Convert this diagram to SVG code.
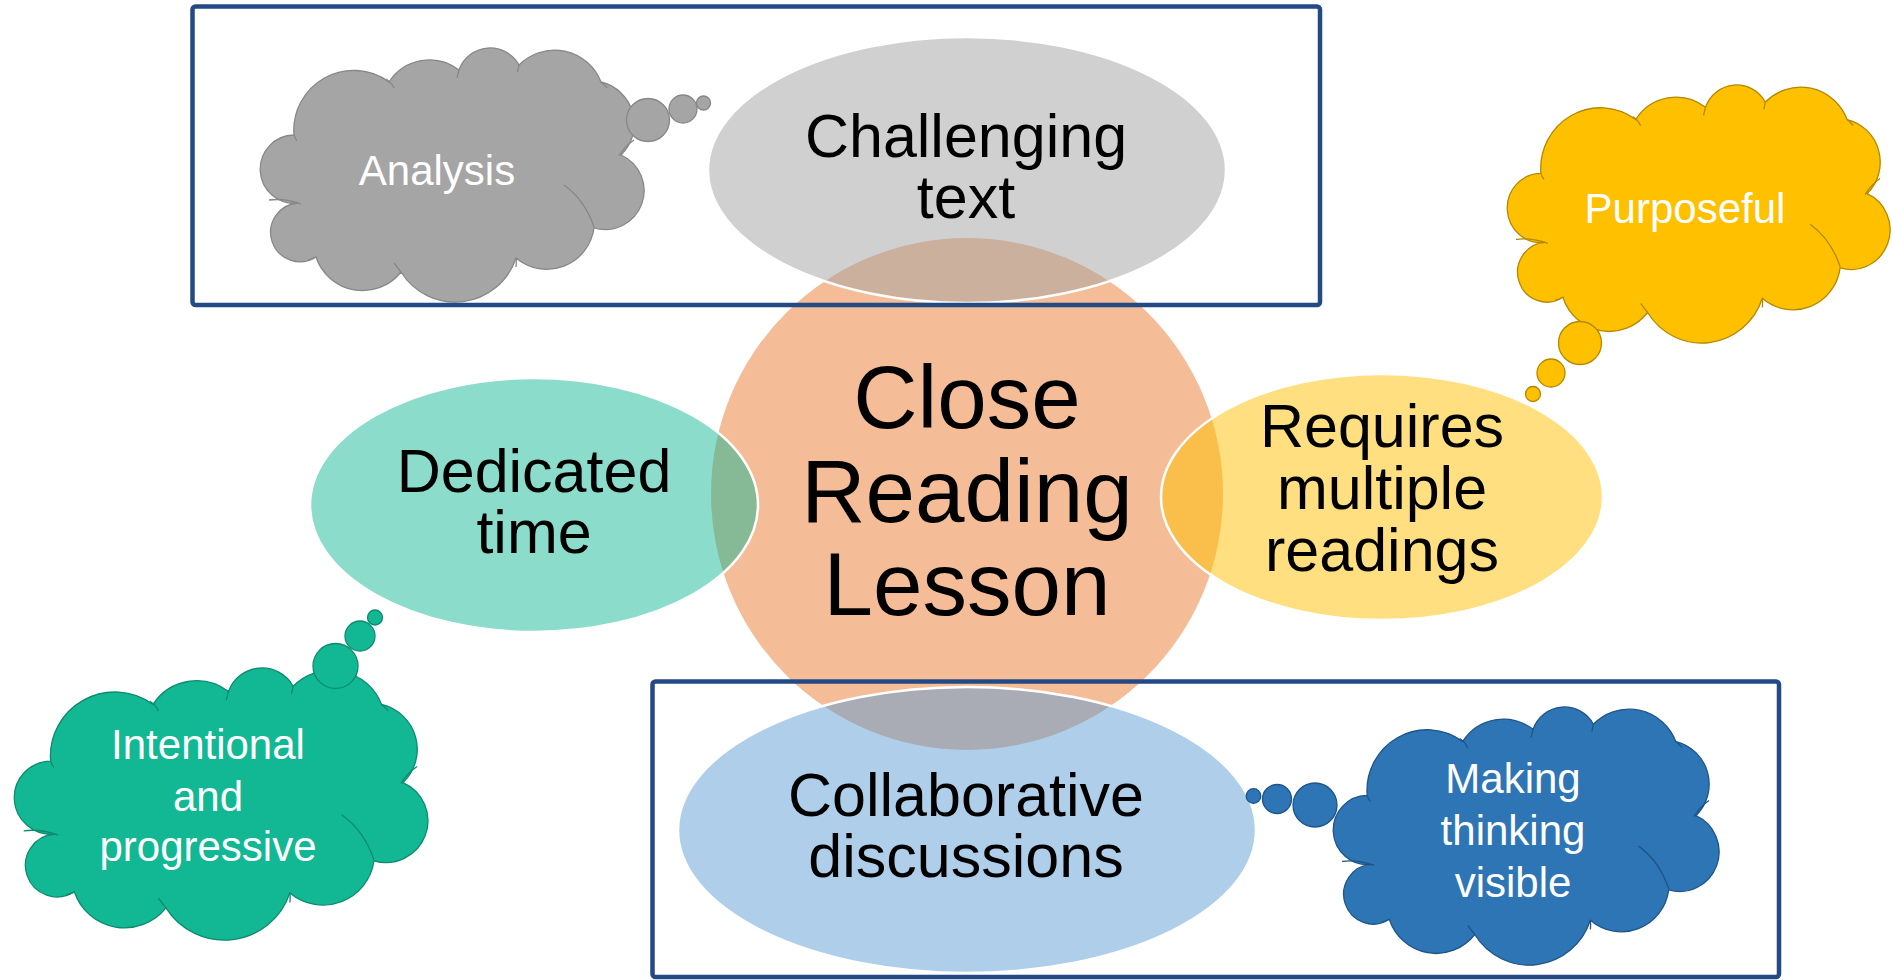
<svg xmlns="http://www.w3.org/2000/svg" xmlns:xlink="http://www.w3.org/1999/xlink" width="1893" height="980" viewBox="0 0 1893 980">
<style>
  .lbl { font-family: "Liberation Sans", Arial, sans-serif; text-anchor: middle; fill: #000; stroke: none; }
  .big { font-size: 89px; }
  .mid { font-size: 61px; }
  .cl { font-family: "Liberation Sans", Arial, sans-serif; text-anchor: middle; fill: #fff; stroke: none; font-size: 42px; }
  .ell { stroke: #fff; stroke-width: 2.5; }
  .frame { fill: none; stroke: #234A85; stroke-width: 4.5; }
  .gray { fill: #A5A5A5; stroke: #878787; stroke-width: 1.3; }
  .yellow { fill: #FFC000; stroke: #B38800; stroke-width: 1.3; }
  .green { fill: #12B894; stroke: #0C8A6E; stroke-width: 1.3; }
  .blue { fill: #2E75B6; stroke: #1E5488; stroke-width: 1.3; }
</style>
<defs>
  <path id="cloud" vector-effect="non-scaling-stroke" d="M38,155 A34.1,34.1 0 1 1 34,87 A59.8,59.8 0 0 1 129,34 A48.2,48.2 0 0 1 199,22 A33,33 0 0 1 259,17 A49.8,49.8 0 0 1 341,34 A43.1,43.1 0 0 1 361,107 A39,39 0 0 1 334,180 A47.6,47.6 0 0 1 256,210 A63.9,63.9 0 0 1 141,224 A49,49 0 0 1 56,209 A29.4,29.4 0 1 1 38,155 Z"/>
  <path id="cloudInner" vector-effect="non-scaling-stroke" fill="none" d="M34,87 Q35,90 37,93 M126,31 Q131,34 134,40 M199,22 Q198,26 197,30 M259,17 Q258.5,20 257.5,24 M341,34 Q344,36 347,40 M359,108 Q365,98 374,92 M304,137 Q325,152 334,179 M256,210 Q256.5,214 256,219 M141,224 Q137,219 134,215 M56,209 Q52,211 48,212 M9,152 Q25,150 41,156"/>
</defs>

<g id="center-circle">
  <circle cx="967" cy="494" r="256" fill="#F5BD97"/>
</g>

<g id="node-challenging-text">
  <ellipse class="ell" cx="967" cy="170" rx="259" ry="133" fill="#A5A5A5" fill-opacity="0.52"/>
  <text class="lbl mid" x="966" y="157">Challenging</text>
  <text class="lbl mid" x="966" y="218">text</text>
</g>

<g id="node-dedicated-time">
  <ellipse class="ell" cx="534" cy="505" rx="224" ry="127" fill="#12B894" fill-opacity="0.49"/>
  <text class="lbl mid" x="534" y="492">Dedicated</text>
  <text class="lbl mid" x="534" y="553">time</text>
</g>

<g id="node-multiple-readings">
  <ellipse class="ell" cx="1382" cy="497" rx="221" ry="123" fill="#FFC000" fill-opacity="0.5"/>
  <text class="lbl mid" x="1382" y="447">Requires</text>
  <text class="lbl mid" x="1382" y="509">multiple</text>
  <text class="lbl mid" x="1382" y="571">readings</text>
</g>

<g id="node-collaborative">
  <ellipse class="ell" cx="967" cy="830" rx="289" ry="143" fill="#5B9BD5" fill-opacity="0.49"/>
  <text class="lbl mid" x="966" y="816">Collaborative</text>
  <text class="lbl mid" x="966" y="877">discussions</text>
</g>

<g id="node-close-reading-lesson">
  <text class="lbl big" x="967" y="428">Close</text>
  <text class="lbl big" x="967" y="521.5">Reading</text>
  <text class="lbl big" x="967" y="615">Lesson</text>
</g>

<g id="cloud-analysis" class="gray">
  <use xlink:href="#cloud" href="#cloud" transform="translate(260,48)"/>
  <use xlink:href="#cloudInner" href="#cloudInner" transform="translate(260,48)"/>
  <circle cx="648" cy="120" r="21.5"/>
  <circle cx="683" cy="109" r="14"/>
  <circle cx="703.5" cy="103" r="7"/>
  <text class="cl" x="437" y="185">Analysis</text>
</g>

<g id="cloud-purposeful" class="yellow">
  <use xlink:href="#cloud" href="#cloud" transform="translate(1507,85) scale(0.9974,1.0157)"/>
  <use xlink:href="#cloudInner" href="#cloudInner" transform="translate(1507,85) scale(0.9974,1.0157)"/>
  <circle cx="1580" cy="343" r="21.5"/>
  <circle cx="1551" cy="373" r="14"/>
  <circle cx="1533" cy="394" r="7.5"/>
  <text class="cl" x="1685" y="222.5">Purposeful</text>
</g>

<g id="cloud-intentional" class="green">
  <use xlink:href="#cloud" href="#cloud" transform="translate(14,668) scale(1.0777,1.0709)"/>
  <use xlink:href="#cloudInner" href="#cloudInner" transform="translate(14,668) scale(1.0777,1.0709)"/>
  <circle cx="335.5" cy="666" r="22.5"/>
  <circle cx="360" cy="636" r="15"/>
  <circle cx="375" cy="617.5" r="7.5"/>
  <text class="cl" x="208" y="759">Intentional</text>
  <text class="cl" x="208" y="811">and</text>
  <text class="cl" x="208" y="861">progressive</text>
</g>

<g id="cloud-thinking-visible" class="blue">
  <use xlink:href="#cloud" href="#cloud" transform="translate(1333,707) scale(1.0052,1.0157)"/>
  <use xlink:href="#cloudInner" href="#cloudInner" transform="translate(1333,707) scale(1.0052,1.0157)"/>
  <circle cx="1315" cy="805" r="22"/>
  <circle cx="1277" cy="799" r="14.5"/>
  <circle cx="1253.5" cy="796" r="7.3"/>
  <text class="cl" x="1513" y="793">Making</text>
  <text class="cl" x="1513" y="845">thinking</text>
  <text class="cl" x="1513" y="897">visible</text>
</g>

<g id="frame-top">
  <rect class="frame" x="192.5" y="6.5" width="1127.5" height="298.5" rx="3"/>
</g>
<g id="frame-bottom">
  <rect class="frame" x="652.5" y="681.5" width="1126.5" height="295.5" rx="3"/>
</g>

<g id="connectors"></g>
</svg>
